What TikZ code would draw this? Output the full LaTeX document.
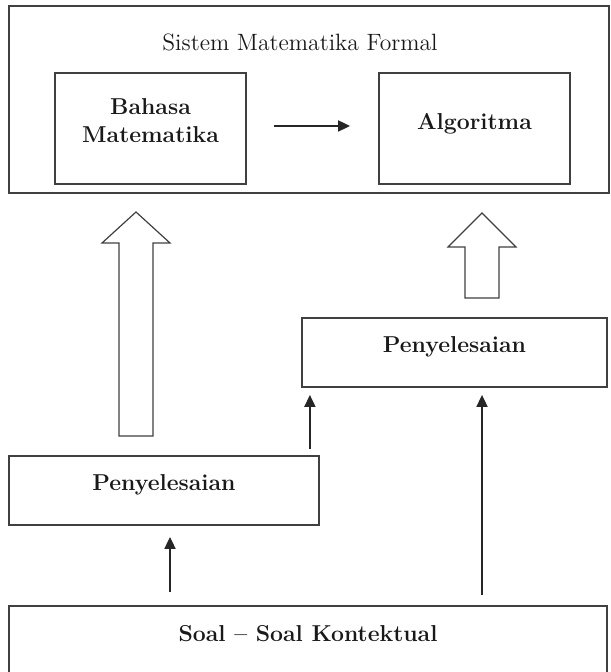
\documentclass[tikz,border=0pt]{standalone}
\usetikzlibrary{arrows.meta}
\tikzstyle{kotak}=[draw=black!75, line width=0.9pt, inner sep=0pt, text=black!90, font=\fontsize{11.5}{14}\selectfont\bfseries, text depth=7.5pt]
\tikzstyle{panah}=[draw=black!85, line width=0.9pt, -{Triangle[length=6pt,width=5.5pt]}]
\tikzstyle{hollow}=[draw=black!75, line width=0.6pt, fill=white]

\begin{document}
\begin{tikzpicture}[x=0.5pt,y=-0.5pt]
  \useasboundingbox (0,0) rectangle (610,672);
  % sistem formal
  \node [kotak, minimum width=300pt, minimum height=93.5pt] (formal) at (309,99.5) {};
  \node [text=black!90, font=\fontsize{11.8}{14}\selectfont] (judul) at (300,42) {Sistem Matematika Formal};
  \node [kotak, minimum width=95.5pt, minimum height=55.5pt, align=center] (bahasa) at (150.5,128.5) {Bahasa\\Matematika};
  \node [kotak, minimum width=95.5pt, minimum height=55.5pt] (algoritma) at (474.5,128.5) {Algoritma};
  \draw [panah, shorten <=13.5pt, shorten >=14pt] ([yshift=1.25pt]bahasa.east) -- ([yshift=1.25pt]algoritma.west);
  % penyelesaian dan soal
  \node [kotak, minimum width=152.5pt, minimum height=34.5pt] (penyR) at (454.5,352.5) {Penyelesaian};
  \node [kotak, minimum width=155pt, minimum height=34.5pt] (penyL) at (164,490.5) {Penyelesaian};
  \node [kotak, minimum width=299pt, minimum height=34.5pt] (soal) at (308,640.5) {Soal -- Soal Kontektual};
  % panah besar
  \draw [hollow] (119,436) -- (119,243) -- (102,243) -- (136,212) -- (170,243) -- (153,243) -- (153,436) -- cycle;
  \draw [hollow] (465,298) -- (465,247) -- (448,247) -- (482,213) -- (516,247) -- (499,247) -- (499,298) -- cycle;
  % panah kecil
  \coordinate (k1) at ([xshift=-5pt]penyL.north east);
  \coordinate (k2) at ([xshift=87pt]soal.north);
  \coordinate (k3) at ([xshift=3pt]penyL.south);
  \draw [panah, shorten <=3pt, shorten >=3.5pt] (k1) -- (k1 |- penyR.south);
  \draw [panah, shorten <=5pt, shorten >=3.5pt] (k2) -- (k2 |- penyR.south);
  \draw [panah, shorten <=6.5pt, shorten >=5.5pt] (k3 |- soal.north) -- (k3);
\end{tikzpicture}
\end{document}
